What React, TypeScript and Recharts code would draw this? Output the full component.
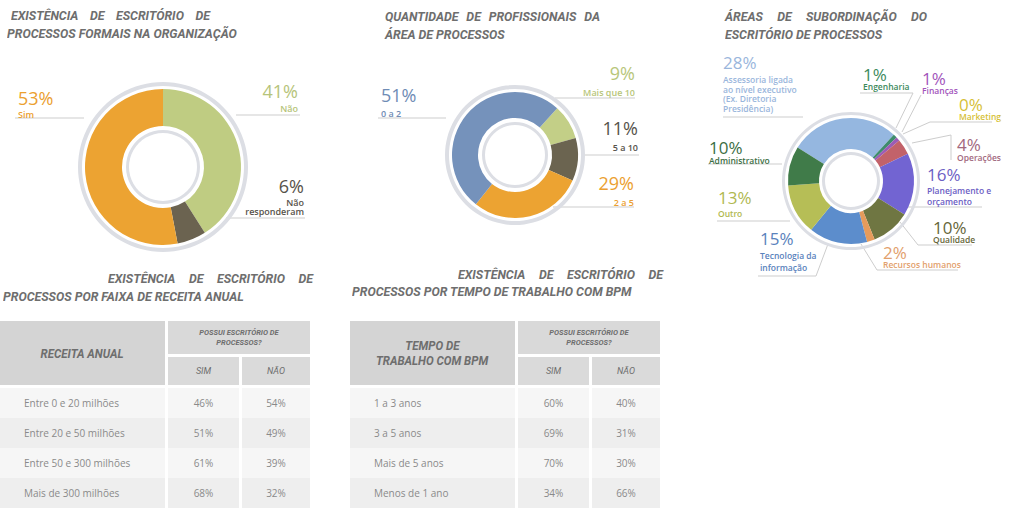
import React from "react";
import { PieChart, Pie, Cell } from "recharts";

// Existência de escritório de processos formais
const formalNames = ["Não", "Não\nresponderam", "Sim"];
const formalValues = [41, 6, 53];

// Quantidade de profissionais da área de processos
const teamNames = ["Mais que 10", "5 a 10", "2 a 5", "0 a 2"];
const teamValues = [9, 11, 29, 51];

// Áreas de subordinação do escritório de processos
const areaNames = [
  "Assessoria ligada\nao nível executivo\n(Ex. Diretoria\nPresidência)",
  "Engenharia",
  "Finanças",
  "Marketing",
  "Operações",
  "Planejamento e\norçamento",
  "Qualidade",
  "Recursos humanos",
  "Tecnologia da\ninformação",
  "Outro",
  "Administrativo",
];
const areaValues = [28, 1, 1, 0, 4, 16, 10, 2, 15, 13, 10];

// tabelas
const revenueBands = ["Entre 0 e 20 milhões", "Entre 20 e 50 milhões", "Entre 50 e 300 milhões", "Mais de 300 milhões"];
const revenueSim = [46, 51, 61, 68];
const revenueNao = [54, 49, 39, 32];
const bpmTimes = ["1 a 3 anos", "3 a 5 anos", "Mais de 5 anos", "Menos de 1 ano"];
const bpmSim = [60, 69, 70, 34];
const bpmNao = [40, 31, 30, 66];

// cores
const formalColors = ["#bfcc82", "#6b6350", "#eca332"];
const formalText = ["#b6c47a", "#57524a", "#eba030"];
const teamColors = ["#c3cf87", "#6b6450", "#eca332", "#7592bb"];
const teamText = ["#b8c67a", "#55524a", "#eba030", "#6f8cb5"];
const areaColors = ["#95b7e0", "#3e8c6c", "#9c5bb5", "#d8c43a", "#c2626a", "#7264d2", "#6f7642", "#e59b5c", "#5c8dcc", "#b6be56", "#407b49"];
const areaText = ["#9ab6dc", "#3d8a5c", "#a254bb", "#d6bf36", "#a2687e", "#6c60c4", "#66663a", "#e2a06c", "#5a82bc", "#b0b850", "#3c6e44"];

type Pos = { x: number; y: number; ny: number; align: "left" | "right"; lh?: number };

const formalPos: Pos[] = [
  { x: 298, y: 91, ny: 108, align: "right" },
  { x: 304, y: 186, ny: 202, align: "right" },
  { x: 18, y: 98, ny: 114, align: "left" },
];
const teamPos: Pos[] = [
  { x: 635, y: 73, ny: 92, align: "right" },
  { x: 638, y: 128, ny: 147, align: "right" },
  { x: 634, y: 183, ny: 202, align: "right" },
  { x: 381, y: 95, ny: 113, align: "left" },
];
const areaPos: Pos[] = [
  { x: 723, y: 62, ny: 80, align: "left", lh: 9.5 },
  { x: 863, y: 74, ny: 86, align: "left" },
  { x: 922, y: 78, ny: 90, align: "left" },
  { x: 959, y: 104, ny: 116, align: "left" },
  { x: 957, y: 144, ny: 157, align: "left" },
  { x: 927, y: 174, ny: 190, align: "left", lh: 11 },
  { x: 933, y: 227, ny: 239, align: "left" },
  { x: 883, y: 252, ny: 264, align: "left" },
  { x: 760, y: 238, ny: 256, align: "left", lh: 11.5 },
  { x: 718, y: 197, ny: 213, align: "left" },
  { x: 709, y: 147, ny: 160, align: "left" },
];

const leaderLines = [
  "M15 118 H84", "M236 115 H300", "M226 218 H305",
  "M378 118 H446", "M555 98 H635", "M585 155 H639", "M553 207 H634",
  "M723 117 H803", "M860 93 H913 L896 128", "M921 95 L902 132", "M903 134 L930 122 H992",
  "M912 143 L951 135 V160", "M905 207 H982", "M900 222 L918 245 H972", "M861 244 L877 270 H958",
  "M758 276 H816 L828 244", "M708 164 H782", "M717 221 H790",
];

const TITLE_FONT = "Roboto, 'Open Sans', sans-serif";
const LABEL_FONT = "'Open Sans', 'Noto Sans', sans-serif";
const RING = "#dcdee4";
const SQUEEZE = 0.95;

function Title({ x, y, w, x2, y2, line1, line2 }: { x: number; y: number; w: number; x2: number; y2: number; line1: string; line2: string }) {
  const base: React.CSSProperties = {
    position: "absolute",
    fontFamily: TITLE_FONT,
    fontWeight: 700,
    fontStyle: "italic",
    fontSize: 13,
    lineHeight: "14px",
    color: "#6e6e6e",
    whiteSpace: "nowrap",
    transform: `scaleX(${SQUEEZE})`,
    transformOrigin: "left center",
  };
  return (
    <>
      <div style={{ ...base, left: x, top: y - 7, width: w / SQUEEZE, display: "flex", justifyContent: "space-between" }}>
        {line1.split(" ").map((word, i) => (
          <span key={i}>{word}</span>
        ))}
      </div>
      <div style={{ ...base, left: x2, top: y2 - 7 }}>{line2}</div>
    </>
  );
}

function SliceLabel({ pos, value, name, color, pctSize = 18, nameSize = 9 }: { pos: Pos; value: number; name: string; color: string; pctSize?: number; nameSize?: number }) {
  const lh = pos.lh ?? 9;
  const plh = Math.round(pctSize * 0.78);
  const side = pos.align === "right" ? { right: 1024 - pos.x } : { left: pos.x };
  return (
    <div
      style={{
        position: "absolute",
        top: pos.y - plh / 2,
        ...side,
        textAlign: pos.align,
        color,
        fontFamily: LABEL_FONT,
        whiteSpace: "pre-line",
      }}
    >
      <div style={{ fontSize: pctSize, lineHeight: `${plh}px` }}>{value}%</div>
      <div
        style={{
          fontSize: nameSize,
          lineHeight: `${lh}px`,
          fontWeight: 600,
          marginTop: Math.max(0, pos.ny - pos.y - plh / 2 - lh / 2),
        }}
      >
        {name}
      </div>
    </div>
  );
}

function Donut({
  cx, cy, values, names, colors, inner, outer, ring, hole, startAngle,
}: {
  cx: number; cy: number; values: number[]; names: string[]; colors: string[];
  inner: number; outer: number; ring: [number, number]; hole: [number, number]; startAngle: number;
}) {
  const data = values.map((v, i) => ({ name: names[i], value: v }));
  const size = 200;
  return (
    <div style={{ position: "absolute", left: cx - size / 2, top: cy - size / 2 }}>
      <PieChart width={size} height={size}>
        <Pie data={[{ value: 1 }]} dataKey="value" cx={size / 2} cy={size / 2} innerRadius={ring[0]} outerRadius={ring[1]} fill={RING} stroke="none" isAnimationActive={false} />
        <Pie data={[{ value: 1 }]} dataKey="value" cx={size / 2} cy={size / 2} innerRadius={hole[0]} outerRadius={hole[1]} fill={RING} stroke="none" isAnimationActive={false} />
        <Pie
          data={data}
          dataKey="value"
          cx={size / 2}
          cy={size / 2}
          innerRadius={inner}
          outerRadius={outer}
          startAngle={startAngle}
          endAngle={startAngle - 360}
          stroke="none"
          isAnimationActive={false}
        >
          {data.map((_, i) => (
            <Cell key={i} fill={colors[i]} />
          ))}
        </Pie>
      </PieChart>
    </div>
  );
}

function Table({ x, head, head2, rows, sim, nao }: { x: number; head: string; head2?: string; rows: string[]; sim: number[]; nao: number[] }) {
  const c0 = 165, c1 = 71, c2 = 68, gap = 3;
  const cell: React.CSSProperties = { position: "absolute", display: "flex", alignItems: "center", justifyContent: "center", color: "#6e6e6e", fontFamily: TITLE_FONT, fontStyle: "italic", fontWeight: 700 };
  const rowTops = [388, 418, 448, 478];
  return (
    <>
      <div style={{ ...cell, left: x, top: 321, width: c0, height: 64, background: "#d4d4d4", fontSize: 12.5, lineHeight: "15px", textAlign: "center", flexDirection: "column" }}>
        <div style={{ transform: "scaleX(0.92)" }}>{head}</div>
        {head2 && <div style={{ transform: "scaleX(0.92)" }}>{head2}</div>}
      </div>
      <div style={{ ...cell, left: x + c0 + gap, top: 321, width: c1 + gap + c2, height: 33, background: "#d9d9d9", fontSize: 7.5, lineHeight: "10px", flexDirection: "column" }}>
        <div>POSSUI ESCRITÓRIO DE</div>
        <div>PROCESSOS?</div>
      </div>
      <div style={{ ...cell, left: x + c0 + gap, top: 357, width: c1, height: 28, background: "#dadada", fontSize: 9, fontWeight: 400 }}>SIM</div>
      <div style={{ ...cell, left: x + c0 + gap + c1 + gap, top: 357, width: c2, height: 28, background: "#dadada", fontSize: 9, fontWeight: 400 }}>NÃO</div>
      {rows.map((r, i) => {
        const bg = i % 2 === 0 ? "#f6f6f6" : "#eeeeee";
        const txt: React.CSSProperties = { ...cell, top: rowTops[i], height: 30, background: bg, color: "#8a8a8a", fontFamily: LABEL_FONT, fontStyle: "normal", fontWeight: 400, fontSize: 10 };
        return (
          <React.Fragment key={i}>
            <div style={{ ...txt, left: x, width: c0, justifyContent: "flex-start", paddingLeft: 24, boxSizing: "border-box" }}>{r}</div>
            <div style={{ ...txt, left: x + c0 + gap, width: c1 }}>{sim[i]}%</div>
            <div style={{ ...txt, left: x + c0 + gap + c1 + gap, width: c2 }}>{nao[i]}%</div>
          </React.Fragment>
        );
      })}
    </>
  );
}

export default function App() {
  return (
    <div style={{ position: "absolute", left: 0, top: 0, width: 1024, height: 530, background: "#fff", overflow: "hidden" }}>
      <svg width={1024} height={530} style={{ position: "absolute", left: 0, top: 0 }}>
        {leaderLines.map((d, i) => (
          <path key={i} d={d} fill="none" stroke="#cdcdcd" strokeWidth={1} />
        ))}
      </svg>

      <Title x={11} y={16} w={199} x2={7} y2={34} line1="EXISTÊNCIA DE ESCRITÓRIO DE" line2="PROCESSOS FORMAIS NA ORGANIZAÇÃO" />
      <Title x={385} y={17} w={215} x2={385} y2={35} line1="QUANTIDADE DE PROFISSIONAIS DA" line2="ÁREA DE PROCESSOS" />
      <Title x={725} y={17} w={202} x2={725} y2={35} line1="ÁREAS DE SUBORDINAÇÃO DO" line2="ESCRITÓRIO DE PROCESSOS" />
      <Title x={108} y={279} w={205} x2={3} y2={297} line1="EXISTÊNCIA DE ESCRITÓRIO DE" line2="PROCESSOS POR FAIXA DE RECEITA ANUAL" />
      <Title x={458} y={275} w={205} x2={352} y2={292} line1="EXISTÊNCIA DE ESCRITÓRIO DE" line2="PROCESSOS POR TEMPO DE TRABALHO COM BPM" />

      <Donut cx={158} cy={162} values={formalValues} names={formalNames} colors={formalColors} inner={41} outer={78} ring={[81, 85]} hole={[34, 37]} startAngle={90} />
      <Donut cx={510} cy={150} values={teamValues} names={teamNames} colors={teamColors} inner={37} outer={63} ring={[66, 70]} hole={[30, 33]} startAngle={48} />
      <Donut cx={846} cy={176} values={areaValues} names={areaNames} colors={areaColors} inner={32} outer={63} ring={[66, 69]} hole={[26, 29]} startAngle={148} />

      {formalValues.map((v, i) => (
        <SliceLabel key={"f" + i} pos={formalPos[i]} value={v} name={formalNames[i]} color={formalText[i]} />
      ))}
      {teamValues.map((v, i) => (
        <SliceLabel key={"t" + i} pos={teamPos[i]} value={v} name={teamNames[i]} color={teamText[i]} />
      ))}
      {areaValues.map((v, i) => (
        <SliceLabel key={"a" + i} pos={areaPos[i]} value={v} name={areaNames[i]} color={areaText[i]} pctSize={17} nameSize={8.5} />
      ))}

      <Table x={0} head="RECEITA ANUAL" rows={revenueBands} sim={revenueSim} nao={revenueNao} />
      <Table x={350} head="TEMPO DE" head2="TRABALHO COM BPM" rows={bpmTimes} sim={bpmSim} nao={bpmNao} />
    </div>
  );
}
